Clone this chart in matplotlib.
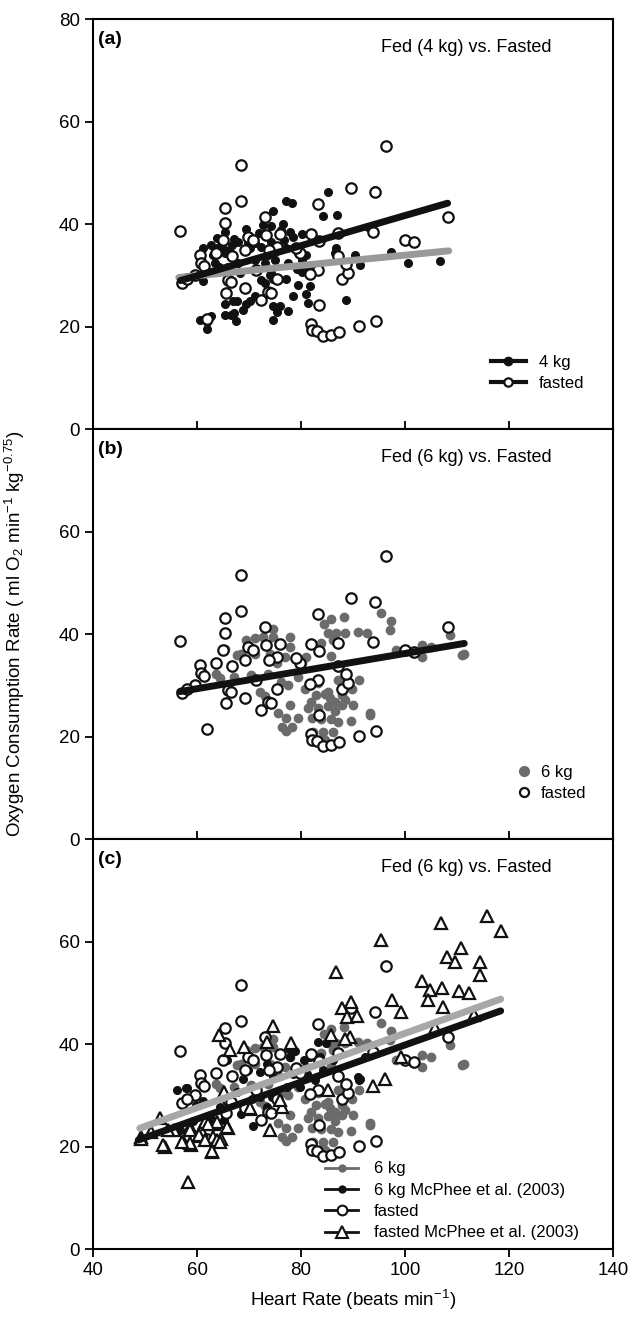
import matplotlib
matplotlib.use('Agg')
import matplotlib.pyplot as plt
from matplotlib.lines import Line2D

plt.rcParams['font.family'] = ['Liberation Sans', 'DejaVu Sans']
plt.rcParams['mathtext.fontset'] = 'custom'
plt.rcParams['mathtext.rm'] = 'Liberation Sans'
plt.rcParams['mathtext.it'] = 'Liberation Sans:italic'

# fasted animals (open circles, shown in all panels)
fasted_hr = [56.7, 68.5, 68.5, 65.3, 65.3, 65.0, 73.0, 69.8, 70.7, 73.3, 75.3, 69.2,
             60.5, 60.8, 61.4, 57.1, 66.0, 66.6, 69.2, 65.6, 72.4, 73.7, 74.3, 75.3,
             81.9, 83.3, 89.7, 94.2, 96.4, 87.1, 83.3, 87.8, 89.1, 88.7, 87.1, 93.9,
             83.4, 81.9, 82.1, 83.0, 84.2, 85.8, 87.4, 91.1, 94.5, 62.0, 81.7, 108.2,
             100.0, 101.8, 83.5, 79.8, 79.0, 75.9, 73.9, 66.7, 63.6, 59.6, 58.0, 71.4]
fasted_vo2 = [38.7, 51.6, 44.6, 43.1, 40.2, 36.9, 41.5, 37.6, 37.0, 37.9, 35.6, 34.9,
              34.0, 32.5, 31.8, 28.6, 29.1, 28.8, 27.6, 26.6, 25.3, 26.8, 26.6, 29.4,
              38.0, 43.9, 47.1, 46.3, 55.3, 38.2, 31.1, 29.4, 30.4, 32.3, 33.7, 38.5,
              24.2, 20.5, 19.4, 19.2, 18.2, 18.4, 19.0, 20.2, 21.2, 21.6, 30.2, 41.5,
              36.9, 36.5, 36.8, 34.3, 35.4, 38.1, 34.9, 33.8, 34.3, 30.1, 29.4, 31.0]

# fed 4 kg (filled black, panel a)
fed4_hr = [77.2, 78.3, 74.7, 85.1, 84.3, 87.0, 69.4, 72.6, 74.3, 76.5, 76.2, 77.8,
           80.2, 78.5, 67.2, 67.9, 65.3, 64.3, 62.7, 61.2, 63.1, 63.4, 65.3, 66.3,
           71.1, 72.4, 74.3, 75.0, 77.2, 78.8, 79.4, 81.0, 80.1, 77.5, 75.0, 73.0,
           71.1, 67.9, 66.0, 64.3, 61.2, 58.3, 74.3, 72.4, 73.0, 74.0, 74.7, 77.2,
           80.1, 81.4, 86.8, 86.5, 90.3, 91.3, 92.9, 79.5, 81.7, 81.0, 81.4, 88.7,
           78.5, 77.5, 76.0, 74.7, 75.3, 74.7, 71.1, 70.1, 69.5, 67.6, 66.9, 68.9,
           65.3, 65.3, 66.6, 67.5, 60.5, 62.0, 62.7, 62.0, 67.2, 65.3, 69.8, 97.4,
           100.5, 106.7, 94.2, 70.2, 72.0, 76.8, 79.2, 68.3, 63.9, 66.8, 73.6]
fed4_vo2 = [44.6, 44.2, 42.6, 46.3, 41.6, 41.8, 39.0, 39.8, 39.6, 40.0, 38.8, 38.5,
            38.0, 37.6, 37.2, 36.6, 38.5, 35.6, 35.9, 35.3, 34.0, 32.4, 35.0, 34.6,
            36.3, 35.6, 36.6, 34.6, 35.3, 35.6, 34.3, 34.0, 33.0, 32.4, 33.0, 32.4,
            33.0, 32.4, 31.7, 31.7, 28.9, 29.2, 30.4, 29.2, 28.5, 30.1, 29.4, 29.4,
            30.7, 31.7, 35.3, 34.3, 34.0, 32.0, 39.5, 28.2, 27.9, 26.4, 24.6, 25.3,
            26.0, 23.1, 24.1, 24.1, 22.8, 21.3, 26.0, 25.1, 24.4, 25.1, 25.1, 23.3,
            24.4, 22.3, 22.2, 21.1, 21.4, 21.0, 22.0, 19.6, 22.7, 34.3, 36.3, 34.6,
            32.5, 32.8, 46.7, 35.4, 38.2, 36.9, 31.2, 30.5, 37.4, 35.9, 33.9]

# fed 6 kg (grey, panels b and c)
fed6_hr = [74.6, 74.6, 71.1, 69.5, 72.7, 77.8, 77.8, 85.8, 88.3, 84.4, 85.2, 86.8,
           88.4, 83.9, 86.1, 91.0, 92.6, 95.4, 85.8, 81.0, 80.1, 76.9, 75.3, 74.0,
           71.1, 68.5, 67.6, 65.3, 63.7, 64.4, 67.2, 70.4, 73.6, 76.2, 79.4, 77.5,
           80.7, 83.3, 85.2, 87.2, 89.8, 91.1, 72.1, 73.0, 75.6, 77.2, 79.5, 76.3,
           77.2, 78.3, 77.8, 81.3, 82.0, 82.9, 84.6, 85.5, 86.5, 87.8, 88.4, 90.0,
           83.3, 85.2, 86.5, 87.8, 82.1, 83.9, 85.8, 87.1, 89.7, 93.2, 84.2, 86.1,
           82.3, 82.3, 84.6, 97.4, 97.2, 108.7, 98.3, 103.2, 105.0, 103.2, 101.6,
           110.9, 111.4, 93.3]
fed6_vo2 = [41.1, 39.5, 39.2, 38.9, 39.5, 39.5, 37.6, 43.0, 43.4, 41.9, 40.2, 40.3,
            40.2, 38.3, 38.9, 40.5, 40.2, 44.2, 35.7, 35.6, 34.3, 35.6, 34.3, 36.2,
            36.2, 36.2, 35.9, 37.2, 32.3, 31.4, 31.7, 32.0, 32.3, 30.7, 31.7, 30.1,
            29.4, 30.4, 28.8, 31.0, 29.4, 31.0, 28.7, 28.0, 24.7, 23.7, 23.7, 21.9,
            21.1, 21.9, 26.2, 25.6, 26.8, 28.1, 28.4, 27.5, 26.8, 28.1, 27.2, 26.2,
            25.6, 25.9, 25.0, 26.2, 23.7, 23.4, 23.4, 22.8, 23.0, 24.7, 21.0, 21.0,
            21.0, 19.4, 19.3, 42.6, 40.8, 39.8, 37.0, 37.9, 37.6, 35.6, 36.3,
            35.9, 36.2, 24.2]

# McPhee et al. (2003) 6 kg (filled black, panel c)
mc6_hr = [56.2, 58.0, 65.7, 67.0, 68.9, 69.9, 72.1, 73.4, 75.6, 77.6, 78.9, 77.9,
          80.5, 81.7, 83.3, 84.9, 83.7, 84.3, 86.2, 92.3, 91.0, 91.2, 81.1, 79.8,
          77.3, 74.4, 72.1, 70.5, 68.4, 70.8, 66.4, 64.4, 65.1, 67.6, 74.7, 78.5,
          82.7, 73.4, 61.2, 59.9, 62.5, 59.3, 56.7, 57.9, 91.3]
mc6_vo2 = [31.1, 31.4, 36.9, 34.0, 33.3, 34.9, 34.6, 36.2, 35.6, 39.0, 38.7, 37.5,
           36.9, 37.5, 40.5, 40.2, 37.5, 34.9, 36.9, 37.5, 33.6, 33.0, 34.2, 31.7,
           31.7, 29.7, 29.7, 29.4, 26.4, 24.1, 29.4, 27.8, 25.2, 30.7, 33.6, 34.2,
           33.0, 27.8, 28.9, 28.2, 25.8, 25.1, 23.2, 31.4, 33.3]

# McPhee et al. (2003) fasted (open triangles, panel c)
mcf_hr = [115.8, 107.0, 118.4, 95.3, 110.7, 108.1, 109.7, 114.4, 114.4, 86.8, 103.3,
          104.9, 107.2, 110.4, 112.4, 104.5, 107.4, 97.5, 99.3, 89.6, 87.8, 88.8, 90.7,
          89.4, 85.7, 113.3, 105.7, 99.3, 96.1, 93.8, 74.7, 64.3, 66.4, 69.0, 78.0,
          73.5, 88.5, 65.2, 70.1, 76.3, 74.0, 70.2, 76.0, 85.2, 52.8, 53.8, 58.3,
          62.8, 58.9, 57.3, 60.8, 59.5, 63.1, 64.6, 66.0, 63.3, 61.5, 58.6, 55.6,
          49.3, 51.2, 65.7, 63.8, 62.2, 58.7, 60.3, 63.8, 61.5, 58.7, 57.1, 64.4,
          62.8, 53.5, 49.2, 54.5]
mcf_vo2 = [65.0, 63.6, 62.1, 60.3, 58.7, 57.1, 56.0, 56.1, 53.5, 54.0, 52.4,
           50.6, 50.9, 50.3, 49.9, 48.6, 47.2, 48.7, 46.3, 48.3, 47.0, 45.4, 45.5,
           41.5, 41.8, 45.7, 43.1, 37.6, 33.3, 31.8, 43.6, 41.8, 38.9, 39.4, 40.2,
           40.5, 41.1, 30.7, 27.3, 27.8, 23.3, 27.5, 29.1, 31.1, 25.6, 20.0, 13.2,
           19.0, 20.3, 21.1, 23.3, 22.0, 21.8, 21.5, 23.7, 24.5, 24.9, 23.8, 23.3,
           21.8, 22.8, 23.9, 24.9, 24.5, 23.2, 22.3, 21.3, 21.3, 20.7, 21.0, 21.0,
           19.2, 20.3, 21.6, 23.2]

# regression line end points
line_a_fed = ([56.8, 108.2], [29.0, 44.1])
line_a_fasted = ([56.5, 108.4], [29.6, 34.8])
line_b_fed = ([56.7, 111.4], [28.8, 38.2])
line_c_grey = ([49.0, 118.4], [23.6, 48.8])
line_c_black = ([48.7, 118.4], [21.3, 46.5])

GREY = '#6b6b6b'
fig = plt.figure(figsize=(6.3, 13.19), dpi=100)
W, H = 630, 1319
left, width = 93 / W, 520 / W
ph = 410 / H
bottoms = [(H - 429.2) / H, (H - 839.2) / H, (H - 1249.2) / H]
axes = [fig.add_axes([left, b, width, ph]) for b in bottoms]

open_kw = dict(marker='o', ls='none', ms=7.5, mfc='white', mec='#111111', mew=1.6)
for i, ax in enumerate(axes):
    ax.set_xlim(40, 140)
    ax.set_ylim(0, 80)
    ax.set_xticks([40, 60, 80, 100, 120, 140])
    if i == 0:
        ax.set_yticks([0, 20, 40, 60, 80])
    else:
        ax.set_yticks([0, 20, 40, 60])
    for s in ax.spines.values():
        s.set_linewidth(1.5)
    ax.tick_params(axis='y', direction='out', length=6, width=1.3, labelsize=13.5)
    if i < 2:
        ax.tick_params(axis='x', direction='in', length=6, width=1.3, labelbottom=False)
    else:
        ax.tick_params(axis='x', direction='out', length=6, width=1.3, labelsize=13.5)

leg_kw = dict(loc='upper left', frameon=False, fontsize=12, borderpad=0,
              labelspacing=0.38, borderaxespad=0)

# (a)
ax = axes[0]
ax.plot(fed4_hr, fed4_vo2, 'o', ms=5.5, color='#111111', zorder=2)
ax.plot(fasted_hr, fasted_vo2, zorder=3, **open_kw)
ax.plot(*line_a_fasted, color='#999999', lw=5, solid_capstyle='round', zorder=4)
ax.plot(*line_a_fed, color='#111111', lw=5, solid_capstyle='round', zorder=5)
handles = [Line2D([], [], color='#111111', lw=3, marker='o', ms=6),
           Line2D([], [], color='#111111', lw=3, marker='o', ms=6, mfc='white', mew=1.6)]
ax.legend(handles, ['4 kg', 'fasted'], bbox_to_anchor=(0.765, 0.182),
          handlelength=2.1, handletextpad=0.8, **leg_kw)
ax.text(0.01, 0.97, '(a)', transform=ax.transAxes, fontsize=14, fontweight='bold', va='top')
ax.text(0.717, 0.932, 'Fed (4 kg) vs. Fasted', transform=ax.transAxes, fontsize=13,
        ha='center', va='center')

# (b)
ax = axes[1]
ax.plot(fed6_hr, fed6_vo2, 'o', ms=6, color=GREY, zorder=2)
ax.plot(fasted_hr, fasted_vo2, zorder=3, **open_kw)
ax.plot(*line_b_fed, color='#111111', lw=5, solid_capstyle='round', zorder=5)
handles = [Line2D([], [], ls='none', marker='o', ms=7, color=GREY),
           Line2D([], [], ls='none', marker='o', ms=6.5, mfc='white', mec='#111111', mew=1.6)]
ax.legend(handles, ['6 kg', 'fasted'], bbox_to_anchor=(0.813, 0.182),
          handlelength=1.0, handletextpad=0.5, **leg_kw)
ax.text(0.01, 0.97, '(b)', transform=ax.transAxes, fontsize=14, fontweight='bold', va='top')
ax.text(0.717, 0.932, 'Fed (6 kg) vs. Fasted', transform=ax.transAxes, fontsize=13,
        ha='center', va='center')

# (c)
ax = axes[2]
ax.plot(fed6_hr, fed6_vo2, 'o', ms=6, color=GREY, zorder=2)
ax.plot(mc6_hr, mc6_vo2, 'o', ms=5.5, color='#111111', zorder=2)
ax.plot(fasted_hr, fasted_vo2, zorder=3, **open_kw)
ax.plot(mcf_hr, mcf_vo2, marker='^', ls='none', ms=9, mfc='white', mec='#111111',
        mew=1.6, zorder=3)
ax.plot(*line_c_grey, color='#a8a8a8', lw=5, solid_capstyle='round', zorder=4)
ax.plot(*line_c_black, color='#111111', lw=5, solid_capstyle='round', zorder=5)
handles = [Line2D([], [], color=GREY, lw=2, marker='o', ms=5),
           Line2D([], [], color='#111111', lw=2, marker='o', ms=5),
           Line2D([], [], color='#111111', lw=2, marker='o', ms=7, mfc='white', mew=1.5),
           Line2D([], [], color='#111111', lw=2, marker='^', ms=8, mfc='white', mew=1.5)]
ax.legend(handles, ['6 kg', '6 kg McPhee et al. (2003)', 'fasted',
                    'fasted McPhee et al. (2003)'],
          bbox_to_anchor=(0.446, 0.214), handlelength=2.0, handletextpad=0.95, **leg_kw)
ax.text(0.01, 0.97, '(c)', transform=ax.transAxes, fontsize=14, fontweight='bold', va='top')
ax.text(0.717, 0.932, 'Fed (6 kg) vs. Fasted', transform=ax.transAxes, fontsize=13,
        ha='center', va='center')
ax.set_xlabel('Heart Rate (beats min$^{-1}$)', fontsize=13.5, labelpad=6)

fig.text(0.024, 1 - 634 / H,
         'Oxygen Consumption Rate ( ml O$_2$ min$^{-1}$ kg$^{-0.75}$)',
         rotation=90, fontsize=13.5, ha='center', va='center')

fig.savefig('out.png', dpi=100)
